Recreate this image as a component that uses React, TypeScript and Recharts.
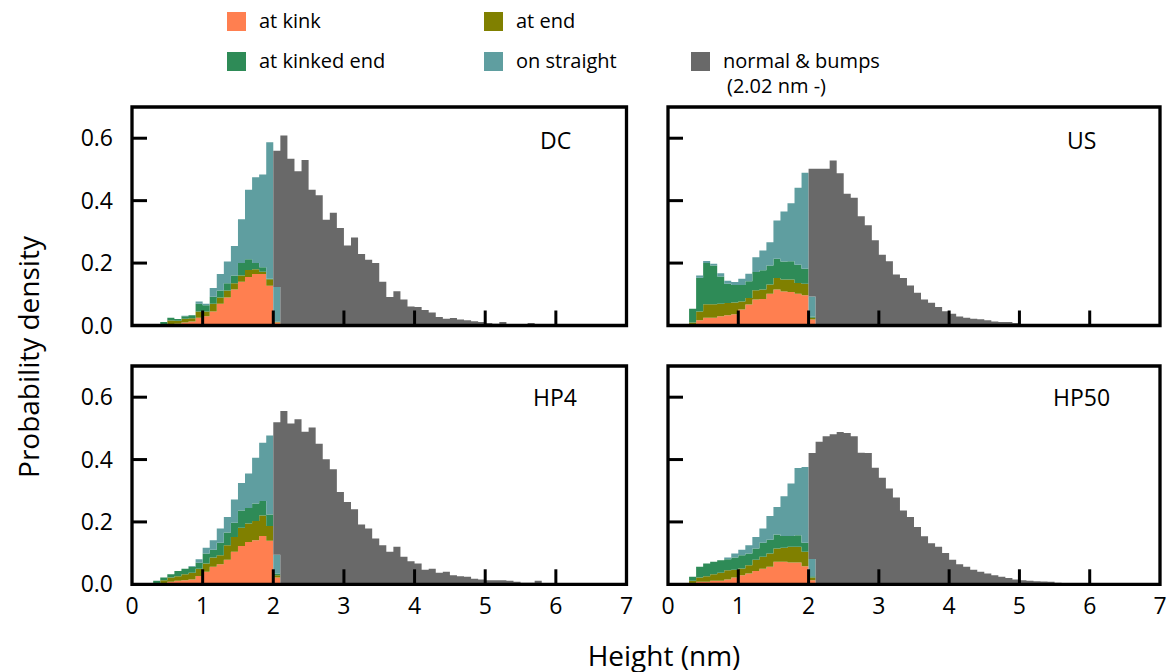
import React from 'react';
import { ComposedChart, Area, XAxis, YAxis, ReferenceArea } from 'recharts';

// left bin edges (nm), bin width 0.1; the last edge only closes the step
const binEdges = [
  0.3, 0.4, 0.5, 0.6, 0.7, 0.8, 0.9, 1.0, 1.1, 1.2, 1.3, 1.4, 1.5, 1.6, 1.7, 1.8, 1.9,
  2.0, 2.1, 2.2, 2.3, 2.4, 2.5, 2.6, 2.7, 2.8, 2.9, 3.0, 3.1, 3.2, 3.3, 3.4, 3.5, 3.6,
  3.7, 3.8, 3.9, 4.0, 4.1, 4.2, 4.3, 4.4, 4.5, 4.6, 4.7, 4.8, 4.9, 5.0, 5.1, 5.2, 5.3,
  5.4, 5.5, 5.6, 5.7, 5.8, 5.9, 6.0,
];
const xTicks = [0, 1, 2, 3, 4, 5, 6, 7];
const yTicks = [0, 0.2, 0.4, 0.6];

// defect classes: bins 0.3 .. 2.0 nm (18 bins)
const dcKink = [0, .002, .005, .006, .01, .013, .025, .03, .045, .07, .09, .115, .14, .155, .165, .165, .127, .01];
const dcEnd = [0, .003, .011, .009, .012, .01, .02, .015, .025, .02, .022, .02, .02, .023, .015, .007, .021, .001];
const dcKinkedEnd = [0, .006, .009, .006, .008, .01, .025, .02, .022, .022, .023, .025, .04, .034, .02, .015, .002, .001];
const dcStraight = [0, 0, 0, 0, .001, .001, .007, .005, .028, .053, .07, .095, .14, .223, .275, .297, .437, .111];
// normal & bumps: bins 2.0 .. 5.9 nm (40 bins)
const dcNormal = [
  0.437, 0.609, 0.534, 0.494, 0.53, 0.435, 0.417, 0.339, 0.361, 0.312,
  0.256, 0.282, 0.229, 0.211, 0.2, 0.14, 0.091, 0.11, 0.083, 0.061,
  0.059, 0.05, 0.042, 0.027, 0.022, 0.024, 0.019, 0.017, 0.014, 0.011,
  0.008, 0.006, 0.011, 0.005, 0.002, 0.002, 0.008, 0, 0, 0,
];

const usKink = [0, .017, .025, .025, .03, .033, .036, .051, .067, .083, .085, .102, .115, .109, .107, .102, .097, .019];
const usEnd = [.01, .028, .043, .043, .04, .039, .038, .026, .021, .03, .03, .029, .037, .038, .04, .034, .037, .006];
const usKinkedEnd = [.044, .108, .132, .124, .087, .062, .056, .053, .054, .058, .062, .061, .062, .058, .059, .059, .048, .004];
const usStraight = [0, .007, .007, .006, .01, .009, .009, .02, .024, .048, .063, .075, .122, .16, .186, .246, .307, .064];
const usNormal = [
  0.409, 0.502, 0.502, 0.529, 0.488, 0.422, 0.409, 0.35, 0.321, 0.273,
  0.227, 0.206, 0.163, 0.152, 0.128, 0.105, 0.083, 0.073, 0.059, 0.046,
  0.038, 0.029, 0.025, 0.022, 0.02, 0.017, 0.013, 0.011, 0.011, 0.008,
  0.004, 0.003, 0.003, 0, 0, 0, 0, 0, 0, 0,
];

const hp4Kink = [0, .004, .008, .011, .013, .015, .027, .04, .056, .064, .079, .104, .123, .136, .141, .155, .14, .022];
const hp4End = [.004, .009, .014, .015, .019, .022, .023, .027, .03, .029, .046, .048, .058, .059, .062, .066, .047, .007];
const hp4KinkedEnd = [.007, .009, .01, .017, .018, .019, .019, .032, .025, .04, .041, .045, .056, .05, .056, .046, .037, .006];
const hp4Straight = [0, 0, 0, 0, 0, .003, .011, .018, .03, .046, .05, .075, .088, .11, .147, .187, .253, .06];
const hp4Normal = [
  0.425, 0.556, 0.516, 0.529, 0.489, 0.503, 0.451, 0.401, 0.369, 0.296,
  0.264, 0.241, 0.192, 0.179, 0.147, 0.125, 0.104, 0.12, 0.088, 0.074,
  0.067, 0.047, 0.05, 0.037, 0.04, 0.029, 0.026, 0.024, 0.018, 0.015,
  0.013, 0.013, 0.013, 0.011, 0.008, 0.005, 0.005, 0.011, 0.004, 0,
];

const hp50Kink = [0, .008, .008, .011, .011, .015, .022, .029, .035, .043, .05, .056, .072, .072, .07, .07, .058, .013];
const hp50End = [.011, .014, .018, .021, .026, .03, .025, .022, .026, .036, .038, .043, .043, .045, .05, .05, .046, .009];
const hp50KinkedEnd = [.013, .034, .041, .04, .04, .035, .039, .042, .038, .036, .045, .044, .045, .038, .035, .037, .029, .004];
const hp50Straight = [0, 0, 0, 0, 0, .006, .013, .018, .026, .037, .046, .076, .088, .127, .168, .216, .243, .055];
const hp50Normal = [
  0.34, 0.457, 0.475, 0.481, 0.488, 0.485, 0.475, 0.422, 0.421, 0.374,
  0.342, 0.307, 0.278, 0.237, 0.216, 0.184, 0.154, 0.132, 0.12, 0.1,
  0.079, 0.064, 0.056, 0.047, 0.04, 0.035, 0.029, 0.024, 0.02, 0.015,
  0.013, 0.011, 0.01, 0.009, 0.008, 0.005, 0, 0, 0, 0,
];

const NORMAL_START = 17; // index of the 2.0 nm edge

const series = [
  { key: 'kink', name: 'at kink', color: '#FF7F50' },
  { key: 'end', name: 'at end', color: '#808000' },
  { key: 'kinkedEnd', name: 'at kinked end', color: '#2E8B57' },
  { key: 'straight', name: 'on straight', color: '#5F9EA0' },
  { key: 'normal', name: 'normal & bumps', color: '#696969' },
];

const FONT = '"Open Sans", "Noto Sans", sans-serif';
const TICK_FONT = 23;

function buildRows(kink, end, kinkedEnd, straight, normal) {
  return binEdges.map((x, i) => ({
    x,
    kink: kink[i] ?? 0,
    end: end[i] ?? 0,
    kinkedEnd: kinkedEnd[i] ?? 0,
    straight: straight[i] ?? 0,
    normal: i >= NORMAL_START ? normal[i - NORMAL_START] ?? 0 : 0,
  }));
}

const panels = [
  { label: 'DC', rows: buildRows(dcKink, dcEnd, dcKinkedEnd, dcStraight, dcNormal), left: 132, top: 107, w: 494.5, h: 218.5, showX: false, showY: true, lx: 540, ly: 140 },
  { label: 'US', rows: buildRows(usKink, usEnd, usKinkedEnd, usStraight, usNormal), left: 668, top: 107, w: 492, h: 218.5, showX: false, showY: false, lx: 1067, ly: 140 },
  { label: 'HP4', rows: buildRows(hp4Kink, hp4End, hp4KinkedEnd, hp4Straight, hp4Normal), left: 132, top: 366, w: 494.5, h: 218.3, showX: true, showY: true, lx: 533, ly: 397 },
  { label: 'HP50', rows: buildRows(hp50Kink, hp50End, hp50KinkedEnd, hp50Straight, hp50Normal), left: 668, top: 366, w: 492, h: 218.3, showX: true, showY: false, lx: 1053, ly: 397 },
];

// axis sizes are part of the chart box: plot starts at (Y_W, M.top)
const M = { top: 10, right: 10, bottom: 10, left: 0 };
const X_H = 40;
const Y_W = 70;

function XTick({ x, y, payload, showLabel }) {
  const v = payload.value;
  return (
    <g>
      {v > 0 && v < 7 && <line x1={x} x2={x} y1={y} y2={y - 15} stroke="#000" strokeWidth={3} />}
      {showLabel && (
        <text x={x} y={y + 22} dy="0.35em" textAnchor="middle" fontSize={TICK_FONT} fontFamily={FONT} fill="#000">
          {v}
        </text>
      )}
    </g>
  );
}

function YTick({ x, y, payload, showLabel }) {
  const v = payload.value;
  return (
    <g>
      {v > 0 && <line x1={x} x2={x + 15} y1={y} y2={y} stroke="#000" strokeWidth={3} />}
      {showLabel && (
        <text x={x - 19} y={y} dy="0.35em" textAnchor="end" fontSize={TICK_FONT} fontFamily={FONT} fill="#000">
          {v.toFixed(1)}
        </text>
      )}
    </g>
  );
}

function Panel({ p }) {
  return (
    <>
      <div style={{ position: 'absolute', left: p.left - Y_W, top: p.top - M.top }}>
        <ComposedChart
          width={p.w + Y_W + M.right}
          height={p.h + M.top + X_H + M.bottom}
          data={p.rows}
          margin={M}
          style={{ overflow: 'visible' }}
        >
          <XAxis
            dataKey="x"
            type="number"
            domain={[0, 7]}
            ticks={xTicks}
            allowDataOverflow
            height={X_H}
            axisLine={false}
            tickLine={false}
            tickSize={0}
            tickMargin={0}
            interval={0}
            tick={(t) => <XTick {...t} showLabel={p.showX} />}
          />
          <YAxis
            type="number"
            domain={[0, 0.7]}
            ticks={yTicks}
            allowDataOverflow
            width={Y_W}
            axisLine={false}
            tickLine={false}
            tickSize={0}
            tickMargin={0}
            interval={0}
            tick={(t) => <YTick {...t} showLabel={p.showY} />}
          />
          {series.map((s) => (
            <Area
              key={s.key}
              dataKey={s.key}
              stackId="h"
              type="stepAfter"
              fill={s.color}
              fillOpacity={1}
              stroke="none"
              isAnimationActive={false}
            />
          ))}
          <ReferenceArea x1={0} x2={7} y1={0} y2={0.7} fill="none" stroke="#000" strokeWidth={3.3} />
        </ComposedChart>
      </div>
      <div style={{ position: 'absolute', left: p.lx, top: p.ly - 12, fontSize: 23, lineHeight: '24px', fontFamily: FONT }}>
        {p.label}
      </div>
    </>
  );
}

const legendItems = [
  { s: 0, x: 227, cy: 21 },
  { s: 1, x: 484, cy: 21 },
  { s: 2, x: 227, cy: 61 },
  { s: 3, x: 484, cy: 61 },
  { s: 4, x: 691, cy: 61 },
];

export default function App() {
  return (
    <div style={{ position: 'absolute', left: 0, top: 0, width: 1171, height: 672, background: '#fff', fontFamily: FONT, color: '#000' }}>
      {legendItems.map((it) => {
        const s = series[it.s];
        return (
          <div key={s.key} style={{ position: 'absolute', left: it.x, top: it.cy - 10 }}>
            <div style={{ position: 'absolute', left: 0, top: 0.5, width: 19, height: 19, background: s.color }} />
            <div style={{ position: 'absolute', left: 32, top: 0, fontSize: 20, lineHeight: '20px', whiteSpace: 'nowrap' }}>
              {s.name}
              {s.key === 'normal' && <div style={{ marginLeft: 4, marginTop: 5 }}>(2.02 nm -)</div>}
            </div>
          </div>
        );
      })}
      {panels.map((p) => (
        <Panel key={p.label} p={p} />
      ))}
      <div
        style={{
          position: 'absolute',
          left: 28,
          top: 357,
          transform: 'translate(-50%, -50%) rotate(-90deg)',
          whiteSpace: 'nowrap',
          fontSize: 28,
          lineHeight: '28px',
        }}
      >
        Probability density
      </div>
      <div
        style={{
          position: 'absolute',
          left: 664,
          top: 655,
          transform: 'translate(-50%, -50%)',
          whiteSpace: 'nowrap',
          fontSize: 28,
          lineHeight: '28px',
        }}
      >
        Height (nm)
      </div>
    </div>
  );
}
